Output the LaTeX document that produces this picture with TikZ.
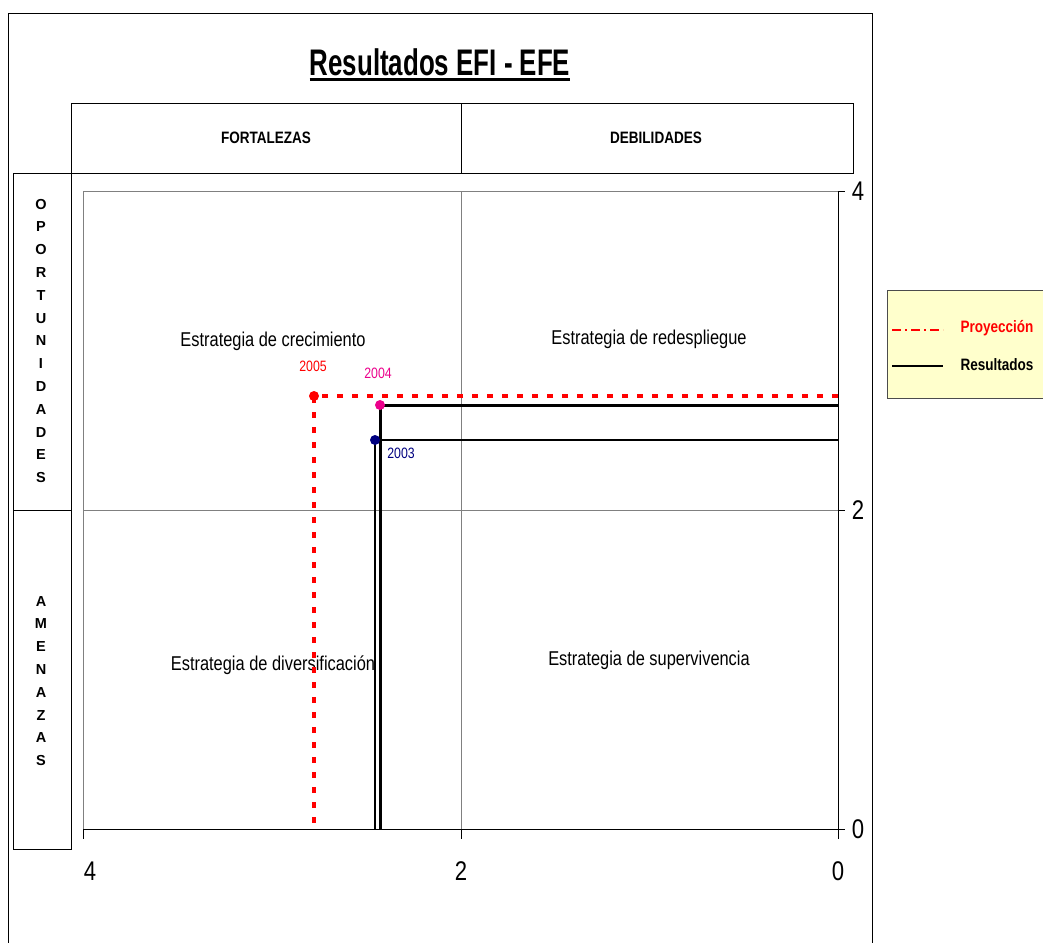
\documentclass[tikz,border=0pt]{standalone}
\usepackage{fontspec}
\setmainfont{Liberation Sans}
\newfontfamily\narrowfont[FakeStretch=0.82]{Liberation Sans}
\newfontfamily\titlefont[FakeStretch=0.7]{Liberation Sans}
\definecolor{gridgray}{HTML}{808080}
\definecolor{legendfill}{HTML}{FFFFCC}
\definecolor{navyblue}{HTML}{000080}
\tikzset{
  frame/.style={draw=black, line width=1pt},
  headtext/.style={font=\narrowfont\bfseries\fontsize{16.5}{18}\selectfont},
  sidetext/.style={align=center, inner sep=0pt, font=\bfseries\fontsize{14.5}{22.8}\selectfont},
  quadtext/.style={font=\narrowfont\fontsize{20}{24}\selectfont},
  yeartext/.style={font=\narrowfont\fontsize{15}{18}\selectfont},
  axisnum/.style={font=\narrowfont\fontsize{27}{30}\selectfont},
  gridline/.style={draw=gridgray, line width=1pt},
  axisline/.style={draw=black, line width=1pt},
  proj/.style={draw=red, line width=3.5pt, dash pattern=on 6pt off 9pt},
  res/.style={draw=black, line width=3pt},
  resthin/.style={draw=black, line width=1.5pt},
  dot/.style={circle, inner sep=0pt, minimum size=10pt},
}
\begin{document}
\begin{tikzpicture}[x=1pt,y=-1pt]
\clip (0,0) rectangle (1043,942);
\fill[white] (0,0) rectangle (1043,942);

% outer chart frame
\draw[frame] (8,14) rectangle (872,960);

% title
\node[anchor=base, inner sep=0pt, font=\titlefont\bfseries\fontsize{37}{40}\selectfont] (title) at (440,75) {Resultados EFI - EFE};
\draw[line width=3pt] ([yshift=-4pt]title.base west) -- ([yshift=-4pt]title.base east);

% column headers
\draw[frame] (71,103) rectangle (853,173);
\draw[frame] (461,103) -- (461,173);
\node[headtext] (fort) at (266,138) {FORTALEZAS};
\node[headtext] (debi) at (656,138) {DEBILIDADES};

% row headers
\draw[frame] (13,173) rectangle (71,849);
\draw[frame] (13,510) -- (71,510);
\node[sidetext] (opor) at (41,341) {O\\P\\O\\R\\T\\U\\N\\I\\D\\A\\D\\E\\S};
\node[sidetext] (amen) at (41,681) {A\\M\\E\\N\\A\\Z\\A\\S};

% plot area and quadrant grid
\coordinate (tl) at (83,191);
\coordinate (bl) at (83,829);
\coordinate (tr) at (838,191);
\coordinate (br) at (838,829);
\draw[gridline] (83,829) -- (83,191) -- (845,191);
\draw[gridline] (461,191) -- (461,839);
\draw[gridline] (83,510) -- (845,510);

% axes with ticks
\draw[axisline] (bl) -- (br);
\draw[axisline] (br) -- (tr);
\foreach \x in {83,461,838} \draw[axisline] (\x,829) -- (\x,839);
\foreach \y in {191,510,829} \draw[axisline] (838,\y) -- (845,\y);
\node[axisnum] (r4) at (858,191) {4};
\node[axisnum] (r2) at (858,510) {2};
\node[axisnum] (r0) at (858,829) {0};
\node[axisnum] (b4) at (90,871) {4};
\node[axisnum] (b2) at (461,871) {2};
\node[axisnum] (b0) at (838,871) {0};

% quadrant names
\node[quadtext] (q1) at (273,341) {Estrategia de crecimiento};
\node[quadtext] (q2) at (649,339) {Estrategia de redespliegue};
\node[quadtext] (q3) at (273,665) {Estrategia de diversificación};
\node[quadtext] (q4) at (649,660) {Estrategia de supervivencia};

% yearly positions
\coordinate (p5) at (314,396);
\coordinate (p4) at (380,405);
\coordinate (p3) at (375,440);
\coordinate (p5r) at (838,396);
\coordinate (p5b) at (314,829);
\coordinate (p4r) at (838,405);
\coordinate (p4b) at (380,829);
\coordinate (p3r) at (838,440);
\coordinate (p3b) at (375,829);

\draw[resthin] (p3r) -- (p3) -- (p3b);
\draw[res] (p4r) -- (p4) -- (p4b);
\draw[proj] (p5r) -- (p5) -- (p5b);

\node[dot, fill=red] (d5) at (p5) {};
\node[dot, fill=magenta] (d4) at (p4) {};
\node[dot, fill=navyblue] (d3) at (p3) {};

\node[yeartext, text=red] (y5) at (313,366) {2005};
\node[yeartext, text=magenta] (y4) at (378,373) {2004};
\node[yeartext, text=navyblue] (y3) at (401,453) {2003};

% legend
\draw[draw=black!70, fill=legendfill, line width=1pt] (887,290) rectangle (1055,398);
\coordinate (l1a) at (892,330);
\coordinate (l1b) at (943,330);
\coordinate (l2a) at (892,366);
\coordinate (l2b) at (943,366);
\draw[red, line width=1.5pt, dash pattern=on 9pt off 4pt on 2pt off 4pt] (l1a) -- (l1b);
\draw[black, line width=2.5pt] (l2a) -- (l2b);
\node[headtext, text=red, anchor=west] (lp) at (957,328) {Proyección};
\node[headtext, anchor=west] (lr) at (957,365) {Resultados};
\end{tikzpicture}
\end{document}
